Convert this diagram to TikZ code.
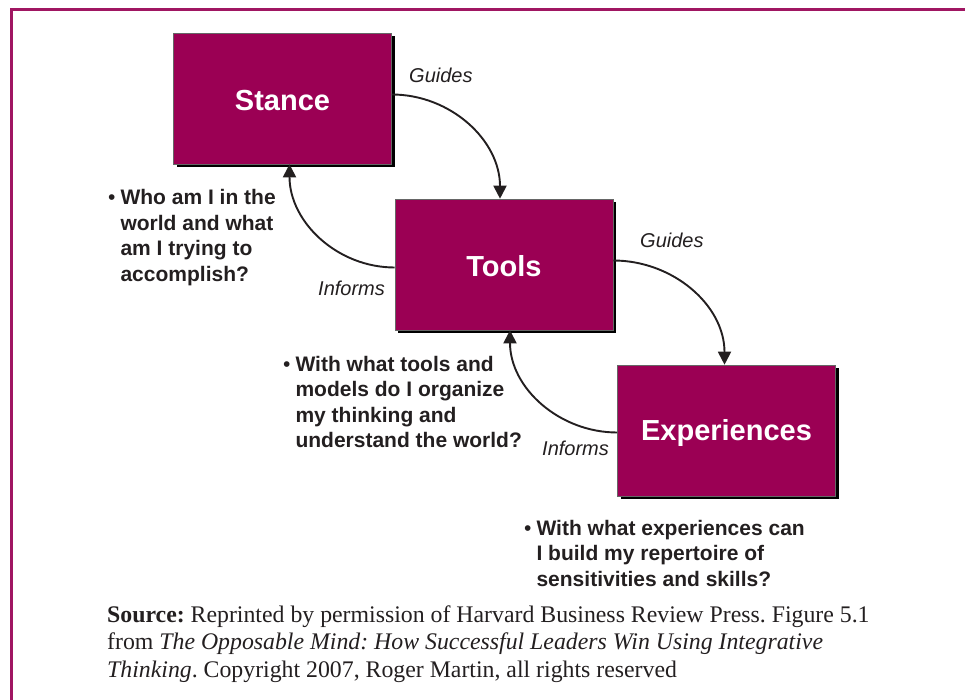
\documentclass[tikz,border=0pt]{standalone}
\usepackage{fontspec}
\setmainfont{Liberation Serif}
\newfontfamily\arial{Liberation Sans}
\usetikzlibrary{arrows.meta,shadows}
\definecolor{boxfill}{RGB}{155,0,84}
\definecolor{framecol}{RGB}{160,22,98}
\definecolor{ink}{RGB}{35,31,32}
\newcommand\boxlabel[1]{\raisebox{-2pt}[\height][\depth]{#1}}
\begin{document}
\frenchspacing
\begin{tikzpicture}[x=1pt,y=-1pt,
  stagebox/.style={fill=boxfill,draw=black!60,line width=0.6pt,
    minimum width=218pt,minimum height=131pt,inner sep=0pt,
    text=white,font=\arial\bfseries\fontsize{29}{34}\selectfont,
    drop shadow={shadow xshift=3pt,shadow yshift=-3pt,fill=black,opacity=1}},
  flow/.style={ink,line width=1.9pt,-{Triangle[length=13pt,width=13pt]}},
  verb/.style={anchor=base west,inner sep=0pt,text=ink,
    font=\arial\itshape\fontsize{20}{24}\selectfont},
  question/.style={anchor=base west,inner sep=0pt,text=ink,
    font=\arial\bfseries\fontsize{21}{25.5}\selectfont},
  credit/.style={anchor=base west,inner sep=0pt,align=left,text=ink,
    font=\fontsize{23.8}{27.5}\selectfont}]
\useasboundingbox (0,0) rectangle (965,700);
% outer frame, open on the right and at the bottom
\draw[framecol,line width=3pt] (11.5,700) -- (11.5,9.5) -- (965,9.5);

% the three stages
\node[stagebox] (stance) at (282.5,98.5) {\boxlabel{Stance}};
\node[stagebox] (tools) at (504,264.5) {\boxlabel{Tools}};
\node[stagebox] (exper) at (726.5,430.5) {\boxlabel{Experiences}};

% guiding and informing loops
\draw[flow] ([yshift=4pt]stance.east) to[out=0,in=90] ([xshift=-4pt]tools.north);
\draw[flow] ([yshift=-3pt]tools.west) to[out=180,in=-90] ([xshift=7pt]stance.south);
\draw[flow] ([yshift=4pt]tools.east) to[out=0,in=90] ([xshift=-2pt]exper.north);
\draw[flow] ([yshift=-2pt]exper.west) to[out=180,in=-90] ([xshift=6pt]tools.south);

\node[verb] (g1) at (409,83) {Guides};
\node[verb] (i1) at (318,295) {Informs};
\node[verb] (g2) at (640,248) {Guides};
\node[verb] (i2) at (542,455) {Informs};

% guiding questions
\node[question] (q1) at (108,205) {\begin{tabular}[t]{@{}l@{\hspace{5pt}}l@{}}
  \mdseries\textbullet & Who am I in the\\ & world and what\\ & am I trying to\\ & accomplish?\end{tabular}};
\node[question] (q2) at (283,371) {\begin{tabular}[t]{@{}l@{\hspace{5pt}}l@{}}
  \mdseries\textbullet & With what tools and\\ & models do I organize\\ & my thinking and\\ & understand the world?\end{tabular}};
\node[question] (q3) at (524,535) {\begin{tabular}[t]{@{}l@{\hspace{5pt}}l@{}}
  \mdseries\textbullet & With what experiences can\\ & I build my repertoire of\\ & sensitivities and skills?\end{tabular}};

% source line (node baseline sits on its last line)
\node[credit] (src) at (107,677) {\textbf{Source:} Reprinted by permission of Harvard Business Review Press. Figure 5.1\\
from \textit{The Opposable Mind: How Successful Leaders Win Using Integrative}\\
\textit{Thinking}. Copyright 2007, Roger Martin, all rights reserved};
\end{tikzpicture}
\end{document}
